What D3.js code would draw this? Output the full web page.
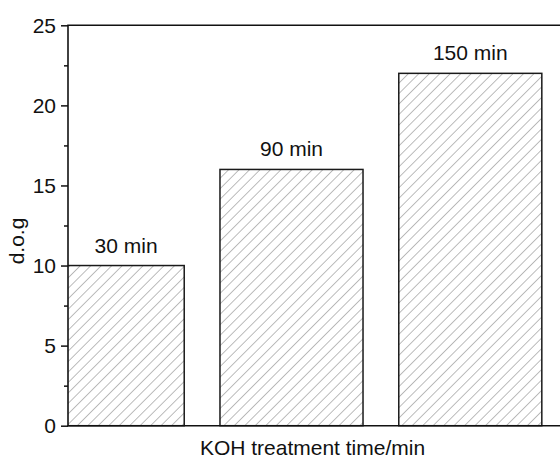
<!DOCTYPE html>
<html>
<head>
<meta charset="utf-8">
<script src="https://cdn.jsdelivr.net/npm/d3@7"></script>
<style>
  html, body { margin: 0; padding: 0; background: #fff; overflow: hidden; }
  svg { display: block; }
  text { font-family: "Liberation Sans", Arial, sans-serif; fill: #111; }
</style>
</head>
<body>
<svg id="chart" width="560" height="458"></svg>
<script>
// ---- data ----
const categories = ["30 min", "90 min", "150 min"];
const positions = [1, 2, 3];
const values = [10, 16, 22];
const yTicks = [0, 5, 10, 15, 20, 25];
const yMinorTicks = [2.5, 7.5, 12.5, 17.5, 22.5];
const xTitle = "KOH treatment time/min";
const yTitle = "d.o.g";

// ---- layout ----
const W = 560, H = 458;
const mLeft = 68, mTop = 25.3, mBottom = 425.7;
const unit = 178.8;
const xDomain = [0.75, 3.6];
const x = d3.scaleLinear().domain(xDomain).range([mLeft, mLeft + (xDomain[1] - xDomain[0]) * unit]);
const y = d3.scaleLinear().domain([0, 25]).range([mBottom, mTop]);
const barW = 0.8;
const FS = 21;

const svg = d3.select("#chart");
const defs = svg.append("defs");
const pat = defs.append("pattern")
  .attr("id", "hatch")
  .attr("patternUnits", "userSpaceOnUse")
  .attr("width", 7.4).attr("height", 7.4)
  .attr("patternTransform", "rotate(45)");
pat.append("line")
  .attr("x1", 0).attr("y1", 0).attr("x2", 0).attr("y2", 7.4)
  .attr("stroke", "#858585").attr("stroke-width", 1.1);

const plotRight = W;
defs.append("clipPath").attr("id", "plotclip")
  .append("rect")
  .attr("x", mLeft).attr("y", mTop - 2)
  .attr("width", plotRight - mLeft).attr("height", mBottom - mTop + 4);

// bars
const bars = svg.append("g").attr("clip-path", "url(#plotclip)");
const data = positions.map((p, i) => ({ p, v: values[i], label: categories[i] }));
bars.selectAll("rect.bar")
  .data(data).enter().append("rect")
  .attr("class", "bar")
  .attr("x", d => x(d.p - barW / 2))
  .attr("y", d => y(d.v))
  .attr("width", d => x(d.p + barW / 2) - x(d.p - barW / 2))
  .attr("height", d => y(0) - y(d.v))
  .attr("fill", "url(#hatch)")
  .attr("stroke", "#1a1a1a")
  .attr("stroke-width", 1.5);

// bar labels (centered on visible part of bar)
svg.selectAll("text.blabel")
  .data(data).enter().append("text")
  .attr("class", "blabel")
  .attr("x", d => {
    const a = Math.max(x(d.p - barW / 2), mLeft);
    const b = Math.min(x(d.p + barW / 2), plotRight);
    return (a + b) / 2;
  })
  .attr("y", d => y(d.v) - 13)
  .attr("text-anchor", "middle")
  .attr("font-size", FS)
  .text(d => d.label);

// frame (left, top, bottom; the right side of the box is cut off by the canvas edge)
const frame = svg.append("g").attr("stroke", "#111").attr("stroke-width", 1.6).attr("fill", "none");
frame.append("line").attr("x1", mLeft).attr("x2", mLeft).attr("y1", mTop).attr("y2", mBottom);
frame.append("line").attr("x1", mLeft - 0.8).attr("x2", W).attr("y1", mTop).attr("y2", mTop);
frame.append("line").attr("x1", mLeft - 0.8).attr("x2", W).attr("y1", mBottom).attr("y2", mBottom);

// y axis
const yAxis = d3.axisLeft(y).tickValues(yTicks).tickSize(7).tickPadding(5).tickFormat(d3.format("d"));
const gy = svg.append("g").attr("transform", `translate(${mLeft},0)`).call(yAxis);
gy.select(".domain").remove();
gy.selectAll(".tick line").attr("stroke", "#111").attr("stroke-width", 1.5);
gy.selectAll(".tick text").attr("font-size", FS).attr("fill", "#111")
  .style("font-family", '"Liberation Sans", Arial, sans-serif');

const yMinor = d3.axisLeft(y).tickValues(yMinorTicks).tickSize(4).tickFormat("");
const gym = svg.append("g").attr("transform", `translate(${mLeft},0)`).call(yMinor);
gym.select(".domain").remove();
gym.selectAll(".tick line").attr("stroke", "#111").attr("stroke-width", 1.5);

// titles
svg.append("text")
  .attr("x", 312.5)
  .attr("y", 455)
  .attr("text-anchor", "middle")
  .attr("font-size", FS)
  .text(xTitle);

svg.append("text")
  .attr("transform", `translate(24,241) rotate(-90)`)
  .attr("text-anchor", "middle")
  .attr("font-size", FS)
  .text(yTitle);
</script>
</body>
</html>
